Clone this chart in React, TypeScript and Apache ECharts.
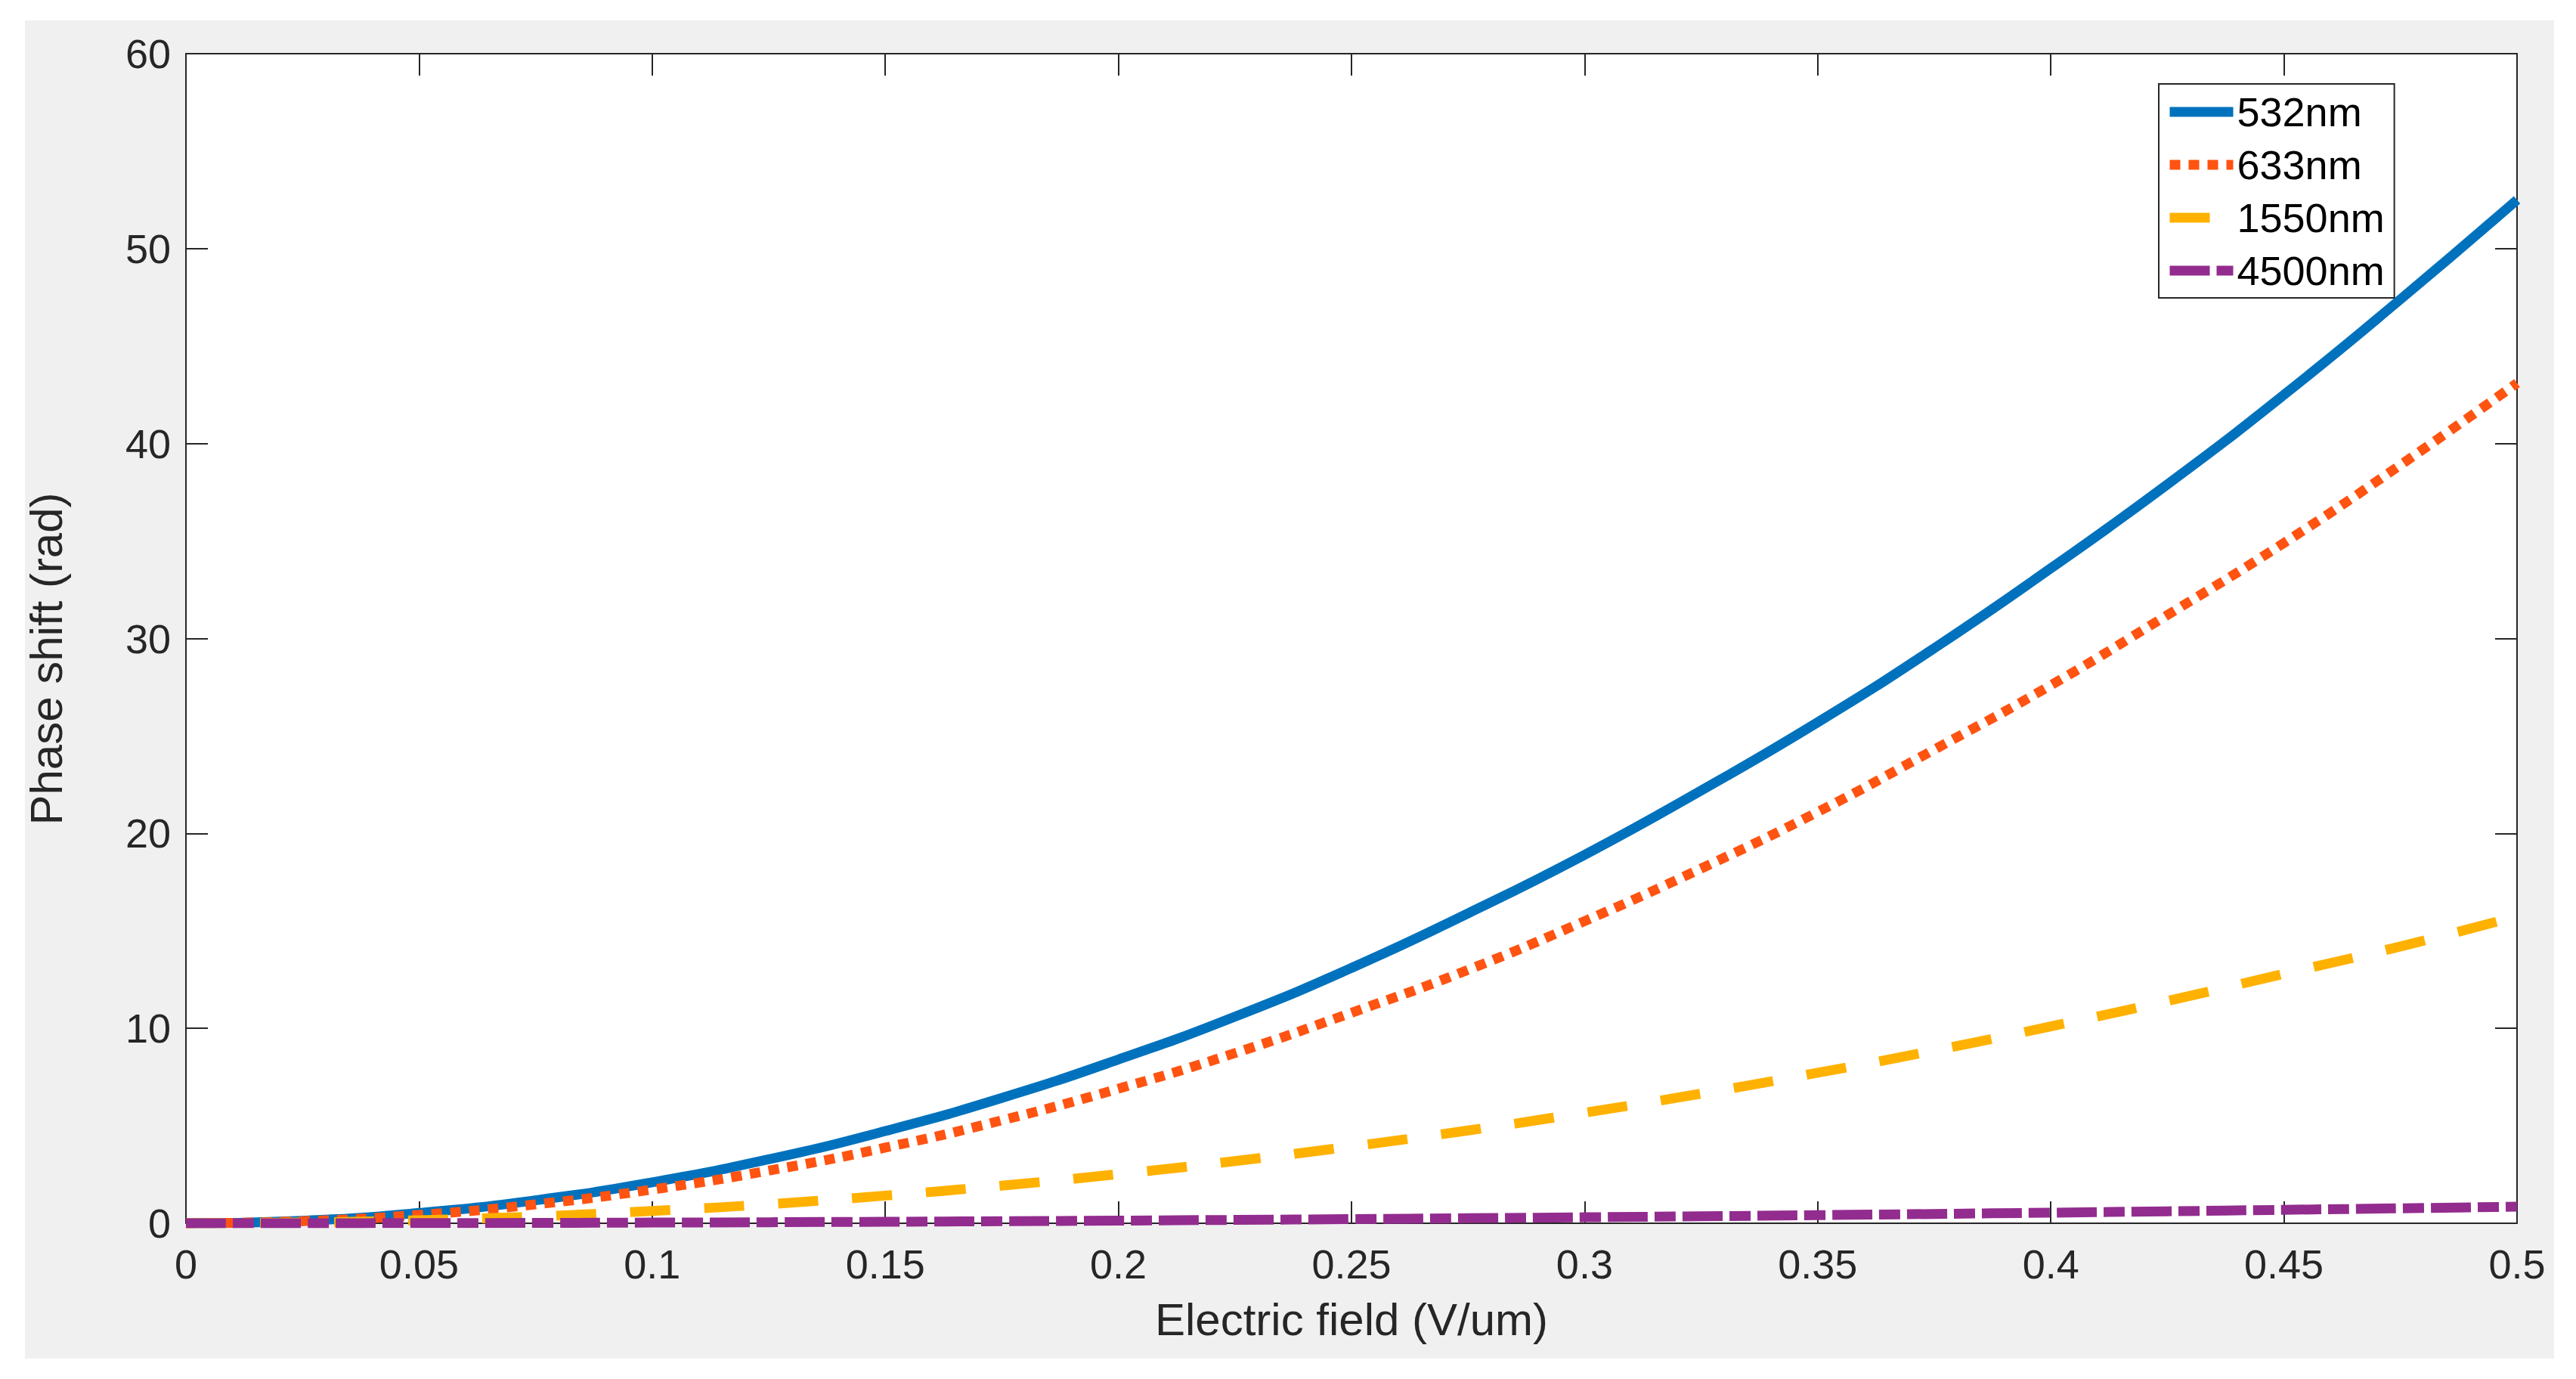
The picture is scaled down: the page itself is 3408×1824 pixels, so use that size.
import React, { useEffect, useRef } from "react";
import * as echarts from "echarts";

const fieldValues = [0, 0.025, 0.05, 0.075, 0.1, 0.125, 0.15, 0.175, 0.2, 0.225, 0.25, 0.275, 0.3, 0.325, 0.35, 0.375, 0.4, 0.425, 0.45, 0.475, 0.5];
const shift532 = [0, 0.13, 0.53, 1.18, 2.1, 3.28, 4.73, 6.43, 8.4, 10.6, 13.1, 15.9, 18.9, 22.2, 25.7, 29.5, 33.6, 37.9, 42.5, 47.4, 52.5];
const shift633 = [0, 0.11, 0.43, 0.97, 1.73, 2.7, 3.88, 5.28, 6.9, 8.73, 10.8, 13.0, 15.5, 18.2, 21.1, 24.3, 27.6, 31.2, 34.9, 38.9, 43.1];
const shift1550 = [0, 0.04, 0.16, 0.35, 0.63, 0.98, 1.42, 1.93, 2.52, 3.19, 3.94, 4.76, 5.67, 6.65, 7.72, 8.86, 10.1, 11.4, 12.8, 14.2, 15.75];
const shift4500 = [0, 0.002, 0.009, 0.019, 0.034, 0.053, 0.077, 0.104, 0.136, 0.172, 0.213, 0.257, 0.306, 0.359, 0.417, 0.478, 0.544, 0.614, 0.689, 0.767, 0.85];
const seriesNames = ["532nm", "633nm", "1550nm", "4500nm"];
const xTitle = "Electric field (V/um)";
const yTitle = "Phase shift (rad)";

const FONT = "'Liberation Sans', Arial, Helvetica, sans-serif";
const AXIS_COLOR = "#262626";

export default function App() {
  const ref = useRef<HTMLDivElement>(null);

  useEffect(() => {
    if (!ref.current) return;
    const chart = echarts.init(ref.current, undefined, { renderer: "svg" });
    const pairs = (ys: number[]) => fieldValues.map((x, i) => [x, ys[i]]);

    const lineSeries = (name: string, ys: number[], color: string, type: any) => ({
      name,
      type: "line",
      data: pairs(ys),
      smooth: true,
      showSymbol: false,
      symbol: "none",
      xAxisIndex: 0,
      yAxisIndex: 0,
      itemStyle: { color },
      lineStyle: { color, width: 13, type, cap: "butt" },
      clip: true,
    });

    const commonAxisLine = { show: true, onZero: false, lineStyle: { color: AXIS_COLOR, width: 2 } };
    const commonTick = { show: true, inside: true, length: 29, lineStyle: { color: AXIS_COLOR, width: 2 } };

    chart.setOption({
      animation: false,
      backgroundColor: "#ffffff",
      textStyle: { fontFamily: FONT },
      graphic: [
        {
          type: "rect",
          z: -10,
          silent: true,
          shape: { x: 33, y: 27, width: 3346, height: 1770 },
          style: { fill: "#F0F0F0" },
        },
      ],
      grid: {
        left: 246,
        top: 71,
        right: 78,
        bottom: 206,
        show: true,
        backgroundColor: "#ffffff",
        borderWidth: 0,
        containLabel: false,
      },
      legend: {
        orient: "vertical",
        left: 2856,
        top: 111,
        padding: [10, 13, 9, 8],
        itemWidth: 84,
        itemHeight: 2,
        itemGap: 16,
        backgroundColor: "#ffffff",
        borderColor: AXIS_COLOR,
        borderWidth: 2,
        borderRadius: 0,
        data: seriesNames,
        itemStyle: { opacity: 0, borderWidth: 0 },
        lineStyle: { width: 13, type: "inherit" },
        textStyle: { fontFamily: FONT, fontSize: 54, lineHeight: 54, color: "#000000" },
        selectedMode: false,
      },
      xAxis: [
        {
          type: "value",
          position: "bottom",
          min: 0,
          max: 0.5,
          interval: 0.05,
          name: xTitle,
          nameLocation: "middle",
          nameGap: 97,
          nameTextStyle: { fontFamily: FONT, fontSize: 60, color: AXIS_COLOR },
          axisLine: commonAxisLine,
          axisTick: commonTick,
          splitLine: { show: false },
          axisLabel: { fontFamily: FONT, fontSize: 54, color: AXIS_COLOR, margin: 27 },
        },
        {
          type: "value",
          position: "top",
          min: 0,
          max: 0.5,
          interval: 0.05,
          axisLine: commonAxisLine,
          axisTick: commonTick,
          splitLine: { show: false },
          axisLabel: { show: false },
        },
      ],
      yAxis: [
        {
          type: "value",
          position: "left",
          min: 0,
          max: 60,
          interval: 10,
          name: yTitle,
          nameLocation: "middle",
          nameGap: 155,
          nameTextStyle: { fontFamily: FONT, fontSize: 60, color: AXIS_COLOR, padding: [0, 54, 0, 0] },
          axisLine: commonAxisLine,
          axisTick: commonTick,
          splitLine: { show: false },
          axisLabel: { fontFamily: FONT, fontSize: 54, color: AXIS_COLOR, margin: 20 },
        },
        {
          type: "value",
          position: "right",
          min: 0,
          max: 60,
          interval: 10,
          axisLine: commonAxisLine,
          axisTick: commonTick,
          splitLine: { show: false },
          axisLabel: { show: false },
        },
      ],
      series: [
        lineSeries(seriesNames[0], shift532, "#0072BD", "solid"),
        lineSeries(seriesNames[1], shift633, "#FF5311", [14, 11]),
        lineSeries(seriesNames[2], shift1550, "#FFB100", [53, 45]),
        lineSeries(seriesNames[3], shift4500, "#932C8F", [53, 9, 28, 9]),
      ],
    });

    return () => {
      chart.dispose();
    };
  }, []);

  return (
    <div
      ref={ref}
      style={{ position: "absolute", left: 0, top: 0, width: 3408, height: 1824 }}
    />
  );
}
